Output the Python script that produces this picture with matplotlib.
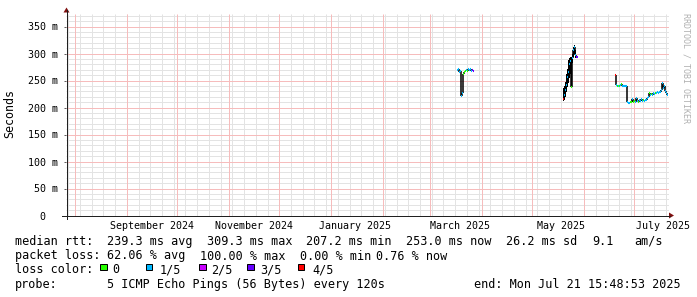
import numpy as np
import pandas as pd
import matplotlib
matplotlib.use("Agg")
import matplotlib.pyplot as plt
import matplotlib.dates as mdates
from matplotlib.collections import LineCollection
from matplotlib.patches import Rectangle, Polygon
from matplotlib.lines import Line2D

# ---------------- data ----------------
graph_start = "2024-07-26 15:48:53"
graph_end = "2025-07-21 15:48:53"

sample_dates = [
    # March 2025 burst
    "2025-03-16 22:00", "2025-03-17 13:00", "2025-03-18 03:00", "2025-03-18 17:30",
    "2025-03-19 08:00", "2025-03-19 22:30", "2025-03-20 12:30", "2025-03-21 03:00",
    "2025-03-21 17:00", "2025-03-22 07:30", "2025-03-22 22:00", "2025-03-23 12:00",
    "2025-03-24 02:30", "2025-03-24 17:00", "2025-03-25 07:00", "2025-03-25 21:30",
    "2025-03-26 12:00", "2025-03-27 02:30",
    # May 2025 burst
    "2025-05-19 06:00", "2025-05-19 20:40", "2025-05-20 11:00", "2025-05-21 01:30",
    "2025-05-21 16:00", "2025-05-22 06:30", "2025-05-22 21:00", "2025-05-23 11:30",
    "2025-05-24 01:40", "2025-05-24 16:00", "2025-05-25 06:40", "2025-05-25 21:00",
    "2025-05-26 11:30", "2025-05-27 02:00", "2025-05-27 16:30", "2025-05-28 07:00",
    # June / July 2025
    "2025-06-19 13:00", "2025-06-20 03:30", "2025-06-20 18:00", "2025-06-21 08:00",
    "2025-06-21 22:00", "2025-06-22 12:30", "2025-06-23 02:40", "2025-06-23 17:00",
    "2025-06-24 07:00", "2025-06-24 21:20", "2025-06-25 11:45", "2025-06-26 02:00",
    "2025-06-26 16:00", "2025-06-27 06:30", "2025-06-27 20:40", "2025-06-28 11:00",
    "2025-06-29 01:10", "2025-06-29 15:20", "2025-06-30 05:30", "2025-06-30 20:00",
    "2025-07-01 10:00", "2025-07-02 00:00", "2025-07-02 14:30", "2025-07-03 04:30",
    "2025-07-03 19:00", "2025-07-04 09:00", "2025-07-04 23:20", "2025-07-05 13:40",
    "2025-07-06 04:00", "2025-07-06 18:00", "2025-07-07 08:30", "2025-07-07 22:30",
    "2025-07-08 12:45", "2025-07-09 03:00", "2025-07-09 17:20", "2025-07-10 07:30",
    "2025-07-10 21:40", "2025-07-11 12:00", "2025-07-12 02:10", "2025-07-12 16:20",
    "2025-07-13 06:40", "2025-07-13 21:00", "2025-07-14 11:00", "2025-07-15 01:30",
    "2025-07-15 15:40", "2025-07-16 05:45", "2025-07-16 20:10", "2025-07-17 10:20",
    "2025-07-18 00:30", "2025-07-18 15:00", "2025-07-19 05:00", "2025-07-19 19:10",
    "2025-07-20 09:40", "2025-07-21 00:00",
]
median_ms = [
    270, 272, 266, 268, 222, 226, 262, 266, 268, 270, 267, 271, 269, 272, 268, 270,
    268, np.nan,
    215, 224, 232, 242, 256, 266, 280, 287, 238, 292, 306, 312, 298, 294, 293, np.nan,
    261, 241, 240, 240, 239, 241, 243, 240, 240, 239, 240, 240,
    211, 209, 208, 210, 211, 215, 211, 212,
    211, 218, 212, 211, 213, 212, 216, 212, 213, 212, 214, 213,
    217, 220, 226, 224, 225, 223, 226, 225, 227, 226, 228, 226,
    229, 228, 232, 246, 236, 240, 230, 226, 224, np.nan,
]
loss_level = [
    1, 1, 1, 1, 1, 1, 0, 0, 0, 1, 0, 1, 1, 1, 1, 3, 3, 0,
    4, 1, 1, 1, 1, 1, 1, 1, 0, 1, 1, 1, 1, 3, 3, 0,
    4, 1, 0, 1, 0, 1, 0, 1, 1, 1, 1, 1,
    1, 1, 1, 0, 0, 1, 0, 0,
    1, 1, 1, 0, 1, 1, 1, 1, 0, 1, 1, 1,
    1, 1, 0, 1, 0, 1, 1, 1, 0, 1, 1, 1,
    1, 1, 1, 1, 1, 1, 1, 1, 1, 0,
]

smoke_dates = [
    "2025-05-19 06:00", "2025-05-19 20:40", "2025-05-20 11:00", "2025-05-21 01:30",
    "2025-05-21 16:00", "2025-05-22 06:30", "2025-05-22 21:00", "2025-05-23 11:30",
    "2025-05-24 01:40", "2025-05-24 16:00", "2025-05-25 06:40", "2025-05-25 21:00",
    "2025-05-26 11:30",
]
smoke_lo_ms = [212, 214, 220, 228, 238, 246, 255, 262, 237, 282, 294, 300, 292]
smoke_hi_ms = [236, 240, 248, 262, 272, 288, 292, 294, 293, 300, 312, 316, 306]

loss_colors = ["#26ff00", "#00b8ff", "#c800ff", "#6400ff", "#ff0000"]
loss_labels = ["0", "1/5", "2/5", "3/5", "4/5"]

ytick_ms = [0, 50, 100, 150, 200, 250, 300, 350]
ytick_labels = ["0  ", " 50 m", "100 m", "150 m", "200 m", "250 m", "300 m", "350 m"]
month_label_dates = ["2024-09-16", "2024-11-16", "2025-01-15",
                     "2025-03-19", "2025-05-18", "2025-07-18"]
month_labels = ["September 2024", "November 2024", "January 2025",
                "March 2025", "May 2025", "July 2025"]

rtt_items = ["median rtt:", "239.3 ms avg", "309.3 ms max", "207.2 ms min",
             "253.0 ms now", "26.2 ms sd", "9.1", "am/s"]
loss_items = ["packet loss:", "62.06 % avg", "100.00 % max", "0.00 % min", "0.76 % now"]
probe_items = ["probe:", "5 ICMP Echo Pings (56 Bytes) every 120s"]
end_text = "end: Mon Jul 21 15:48:53 2025"

# ---------------- layout ----------------
W, H, DPI = 697, 297, 100
MONO = "DejaVu Sans Mono"
GRID = "#e3e3e3"
MGRID = "#f6bcbc"
ARROW = "#801010"
AXIS = "#202020"
YMAX = 0.374

fig = plt.figure(figsize=(W / DPI, H / DPI), dpi=DPI, facecolor="white")


def fx(x):
    return x / W


def fy(y):
    return 1 - y / H


ax = fig.add_axes([fx(66.0), fy(215.5), 603 / W, (YMAX / 0.05 * 27) / H])
ax.set_facecolor("white")
t0 = mdates.date2num(pd.Timestamp(graph_start).to_pydatetime())
t1 = mdates.date2num(pd.Timestamp(graph_end).to_pydatetime())
ax.set_xlim(t0, t1)
ax.set_ylim(0, YMAX)
for s in ax.spines.values():
    s.set_visible(False)

# grid (light, 1px)
sundays = pd.date_range(graph_start, graph_end, freq="W-SUN").normalize()
month_starts = pd.date_range("2024-08-01", graph_end, freq="MS")
minor_y = [v / 1000 for v in range(10, 374, 10) if v % 50]
major_y = [v / 1000 for v in ytick_ms[1:]]
grid_artists = [
    ax.vlines(mdates.date2num(sundays.to_pydatetime()), 0, YMAX, colors=GRID,
              lw=0.72, zorder=1),
    ax.hlines(minor_y, t0, t1, colors=GRID, lw=0.72, zorder=1),
    ax.vlines(mdates.date2num(month_starts.to_pydatetime()), 0, YMAX, colors=MGRID,
              lw=0.72, zorder=1.1),
    ax.hlines(major_y, t0, t1, colors=MGRID, lw=0.72, zorder=1.1),
]
for g in grid_artists:
    g.set_snap(True)

# smoke
st = mdates.date2num(pd.to_datetime(smoke_dates).to_pydatetime())
lo = np.array(smoke_lo_ms) / 1000
hi = np.array(smoke_hi_ms) / 1000
ax.bar(st, hi - lo, bottom=lo, width=0.62, align="edge", color="black", lw=0, zorder=2)

# median line coloured by loss
t = mdates.date2num(pd.to_datetime(sample_dates).to_pydatetime())
v = np.array(median_ms, dtype=float) / 1000
hsegs, hcols, vsegs = [], [], []
for i in range(len(t) - 1):
    if np.isnan(v[i]):
        continue
    hsegs.append([(t[i], v[i]), (t[i + 1], v[i])])
    hcols.append(loss_colors[loss_level[i]])
    if not np.isnan(v[i + 1]):
        vsegs.append([(t[i + 1], v[i]), (t[i + 1], v[i + 1])])
ax.add_collection(LineCollection(vsegs, colors="black", linewidths=1.1,
                                 capstyle="butt", zorder=3))
ax.add_collection(LineCollection(hsegs, colors=hcols, linewidths=1.5,
                                 capstyle="butt", zorder=4))

# ticks and labels
ax.set_yticks([v / 1000 for v in ytick_ms], ytick_labels)
ax.tick_params(axis="y", length=2 * 0.72, width=0.72, color="#606060", pad=4.0,
               labelsize=7.2, direction="out")
ax.set_xticks(mdates.date2num(pd.to_datetime(month_label_dates).to_pydatetime()),
              month_labels)
ax.tick_params(axis="x", length=0, pad=4.2, labelsize=7.2)
for lab in ax.get_xticklabels() + ax.get_yticklabels():
    lab.set_family(MONO)

# axes lines and arrows
fig.add_artist(Line2D([fx(62), fx(670)], [fy(215.5), fy(215.5)], color=AXIS, lw=0.72))
fig.add_artist(Line2D([fx(66.5), fx(66.5)], [fy(219), fy(10)], color=AXIS, lw=0.72))
fig.add_artist(Polygon([(fx(669), fy(212.5)), (fx(669), fy(218.5)), (fx(674), fy(215.5))],
                       closed=True, color=ARROW, lw=0))
fig.add_artist(Polygon([(fx(63.5), fy(12.5)), (fx(69.5), fy(12.5)), (fx(66.5), fy(7.5))],
                       closed=True, color=ARROW, lw=0))

# y label and watermark
fig.text(fx(10), fy(113.5), "Seconds", rotation=90, ha="center", va="center",
         family=MONO, fontsize=8.4)
fig.text(fx(686), fy(68), "RRDTOOL / TOBI OETIKER", rotation=270, ha="center",
         va="center", family=MONO, fontsize=6.0, color="#b0b0b0")

# legend text
FS = 8.45
rtt_x = [16, 107.8, 207.5, 306.8, 407.2, 506.5, 592.5, 634.5]
loss_x = [16, 107.8, 201.2, 300.2, 376.5]
probe_x = [16, 107.8]
for s, x in zip(rtt_items, rtt_x):
    fig.text(fx(x - 0.7), fy(245), s, family=MONO, fontsize=FS, va="baseline")
for s, x in zip(loss_items, loss_x):
    fig.text(fx(x - 0.7), fy(259.5), s, family=MONO, fontsize=FS, va="baseline")
for s, x in zip(probe_items, probe_x):
    fig.text(fx(x - 0.7), fy(287.8), s, family=MONO, fontsize=FS, va="baseline")
fig.text(fx(681), fy(287.8), end_text, family=MONO, fontsize=FS, va="baseline", ha="right")

fig.text(fx(16 - 0.7), fy(273.3), "loss color:", family=MONO, fontsize=FS, va="baseline")
sq_x = [100, 145.7, 199, 247.3, 297.7]
lab_x = [113.3, 160, 211.7, 260.7, 312.7]
for c, lab, sx, lx in zip(loss_colors, loss_labels, sq_x, lab_x):
    fig.add_artist(Rectangle((fx(sx), fy(270.3)), 6.6 / W, 6.8 / H, facecolor=c,
                             edgecolor="black", lw=0.72, transform=fig.transFigure))
    fig.text(fx(lx - 0.7), fy(273.3), lab, family=MONO, fontsize=FS, va="baseline")

fig.savefig("out.png", dpi=DPI, facecolor="white")
